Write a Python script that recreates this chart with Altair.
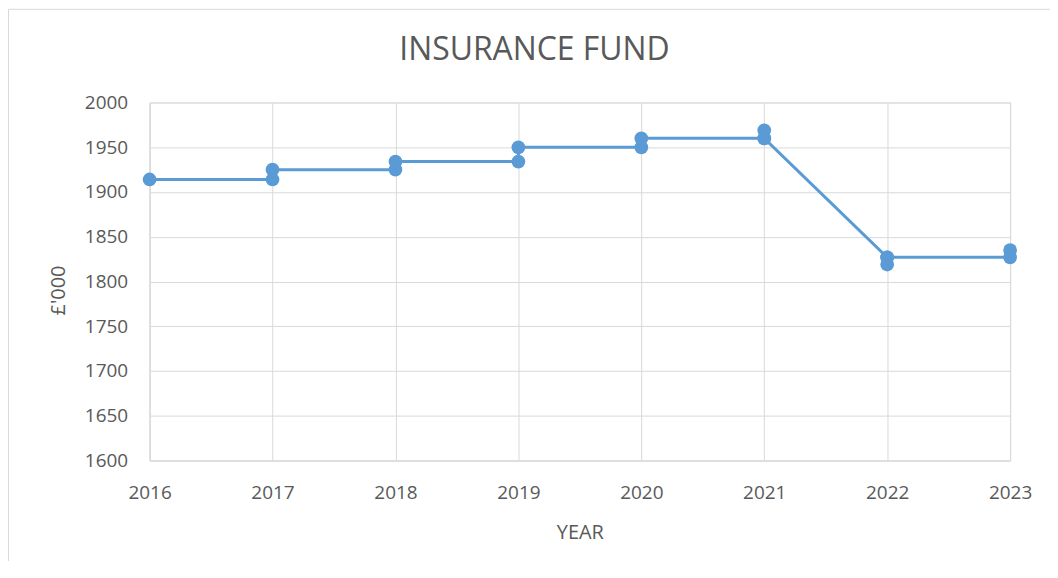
import altair as alt
import pandas as pd

# data: path of the line, in drawing order (year, value in £'000)
years = [2016, 2017, 2017, 2018, 2018, 2019, 2019, 2020, 2020, 2021, 2021, 2021, 2022, 2022, 2022, 2023, 2023]
values = [1914, 1914, 1925, 1925, 1934, 1934, 1950, 1950, 1960, 1960, 1969, 1960, 1827, 1819, 1827, 1827, 1835]
tick_years = [2016, 2017, 2018, 2019, 2020, 2021, 2022, 2023]
title_text = ["INSURANCE FUND"]

df = pd.DataFrame({"year": years, "value": values, "order": list(range(len(years)))})

FONT = "Open Sans"
GREY = "#595959"
BLUE = "#5b9bd5"

x = alt.X("year:Q", title="YEAR",
          scale=alt.Scale(domain=[2016, 2023], nice=False, zero=False),
          axis=alt.Axis(values=tick_years, format="d", tickSize=0, labelPadding=23,
                        labelFlush=False, titlePadding=20, grid=True, gridColor="#d9d9d9",
                        domainColor="#d9d9d9",
                        labelFontSize=19, titleFontSize=20, labelColor=GREY, titleColor=GREY,
                        labelFont=FONT, titleFont=FONT, titleFontWeight="normal"))
y = alt.Y("value:Q", title="£'000",
          scale=alt.Scale(domain=[1600, 2000], nice=False, zero=False),
          axis=alt.Axis(values=list(range(1600, 2001, 50)), format="d", tickSize=0,
                        labelPadding=22, labelFlush=False, titlePadding=16, titleY=188,
                        grid=True, gridColor="#d9d9d9", domainColor="#d9d9d9",
                        labelFontSize=19, titleFontSize=20, labelColor=GREY, titleColor=GREY,
                        labelFont=FONT, titleFont=FONT, titleFontWeight="normal"))

frame = alt.Chart(pd.DataFrame({"a": [0]})).mark_rect(
    filled=False, stroke="#d9d9d9", strokeWidth=1
).encode(x=alt.value(-141.5), x2=alt.value(905), y=alt.value(-93.5), y2=alt.value(474))

title = alt.Chart(pd.DataFrame({"t": title_text})).mark_text(
    font=FONT, fontSize=32, color=GREY, align="center", baseline="alphabetic"
).encode(text="t:N", x=alt.value(386), y=alt.value(-43))

line = alt.Chart(df).mark_line(color=BLUE, strokeWidth=3).encode(x=x, y=y, order="order:Q")
pts = alt.Chart(df).mark_circle(color=BLUE, size=190, opacity=1).encode(x=x, y=y)

chart = alt.layer(frame, title, line, pts).properties(
    width=863, height=359,
    autosize=alt.AutoSizeParams(type="none"),
    padding={"left": 142, "top": 94, "right": 40, "bottom": 100},
).configure_view(stroke=None).configure(background="white")

chart.save("out.html", embed_options={"renderer": "svg", "actions": False})
